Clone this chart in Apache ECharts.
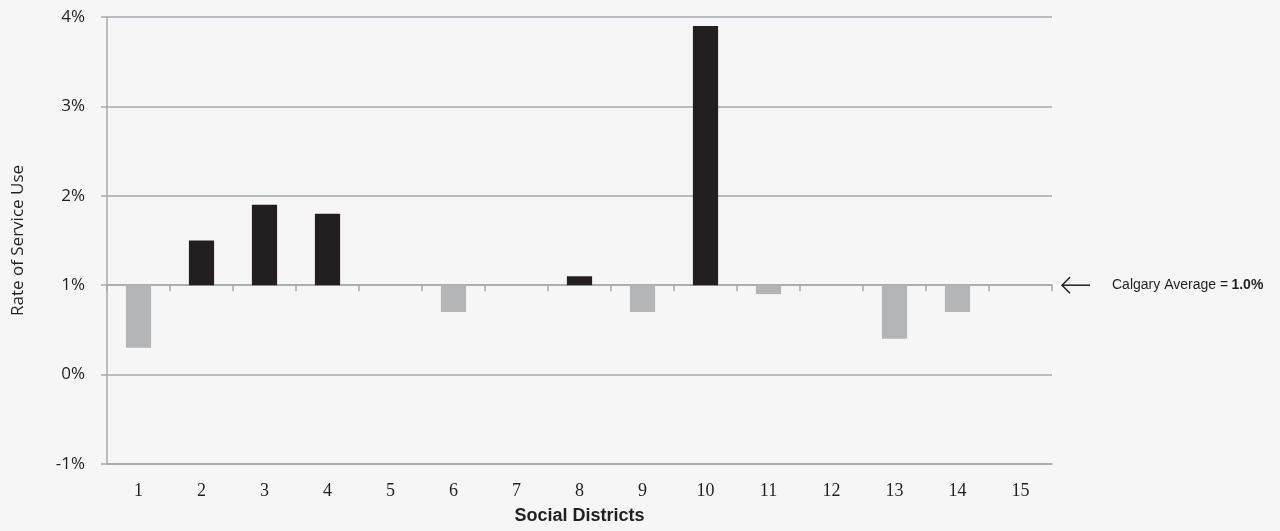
<!DOCTYPE html>
<html><head><meta charset="utf-8">
<script src="https://cdn.jsdelivr.net/npm/echarts@6/dist/echarts.min.js"></script>
<style>html,body{margin:0;padding:0;background:#f6f6f6}#c{width:1280px;height:531px}</style>
</head><body><div id="c"></div>
<script>
const categories = ['1','2','3','4','5','6','7','8','9','10','11','12','13','14','15'];
const rates = [0.3,1.5,1.9,1.8,1.0,0.7,1.0,1.1,0.7,3.9,0.9,1.0,0.4,0.7,1.0];
const calgaryAverage = 1.0;
const yTicks = [-1,0,1,2,3,4];

const chart = echarts.init(document.getElementById('c'));
const gridColor = '#a7a9ac';
const option = {
  backgroundColor: '#f6f6f6',
  animation: false,
  grid: {left: 107, right: 228, top: 17, bottom: 67, containLabel: false, outerBoundsMode: 'none'},
  xAxis: [
    {type: 'category', data: categories, boundaryGap: true,
     axisLine: {onZero: true, lineStyle: {color: gridColor, width: 1.5}},
     axisTick: {show: true, length: 6, lineStyle: {color: gridColor, width: 1.5}},
     axisLabel: {show: false}},
    {type: 'category', data: categories, position: 'bottom', boundaryGap: true,
     axisLine: {onZero: false, lineStyle: {color: gridColor, width: 1.5}},
     axisTick: {show: false},
     axisLabel: {margin: 18, fontFamily: 'Liberation Serif', fontSize: 18, color: '#231f20'},
     name: 'Social Districts', nameLocation: 'middle', nameGap: 43,
     nameTextStyle: {fontFamily: 'Liberation Sans', fontWeight: 'bold', fontSize: 18, color: '#231f20'}}
  ],
  yAxis: {
    type: 'value', min: yTicks[0] - calgaryAverage, max: yTicks[yTicks.length-1] - calgaryAverage, interval: 1,
    axisLine: {show: true, onZero: false, lineStyle: {color: gridColor, width: 1.5}},
    axisTick: {show: true, length: 6, lineStyle: {color: gridColor, width: 1.5}},
    splitLine: {show: true, lineStyle: {color: gridColor, width: 1.5}},
    axisLabel: {formatter: v => Math.round(v + calgaryAverage) + '%', margin: 22, fontFamily: 'Open Sans', fontSize: 17, color: '#231f20'},
    name: 'Rate of Service Use', nameLocation: 'middle', nameGap: 80, nameRotate: 90,
    nameTextStyle: {fontFamily: 'Open Sans', fontSize: 17, color: '#231f20'}
  },
  series: [{
    type: 'bar', xAxisIndex: 0, barWidth: '40%',
    data: rates.map(v => ({value: +(v - calgaryAverage).toFixed(3),
      itemStyle: {color: v > calgaryAverage ? '#231f20' : '#b3b4b6'}}))
  }]
};
chart.setOption(option);
const yAvg = chart.convertToPixel({yAxisIndex: 0}, 0);
chart.setOption({graphic: [
  {type: 'polyline', shape: {points: [[1062, yAvg], [1090, yAvg]]}, style: {stroke: '#231f20', lineWidth: 1.5}},
  {type: 'polyline', shape: {points: [[1070, yAvg - 8], [1062, yAvg], [1070, yAvg + 8]]}, style: {stroke: '#231f20', lineWidth: 1.5, fill: null}},
  {type: 'text', x: 1112, y: yAvg, style: {
    text: '{n|Calgary Average =} {b|' + calgaryAverage.toFixed(1) + '%}', verticalAlign: 'middle',
    rich: {n: {fontFamily: 'Liberation Sans', fontSize: 14, fill: '#231f20'},
           b: {fontFamily: 'Liberation Sans', fontSize: 14, fontWeight: 'bold', fill: '#231f20'}}}}
]});
</script></body></html>
